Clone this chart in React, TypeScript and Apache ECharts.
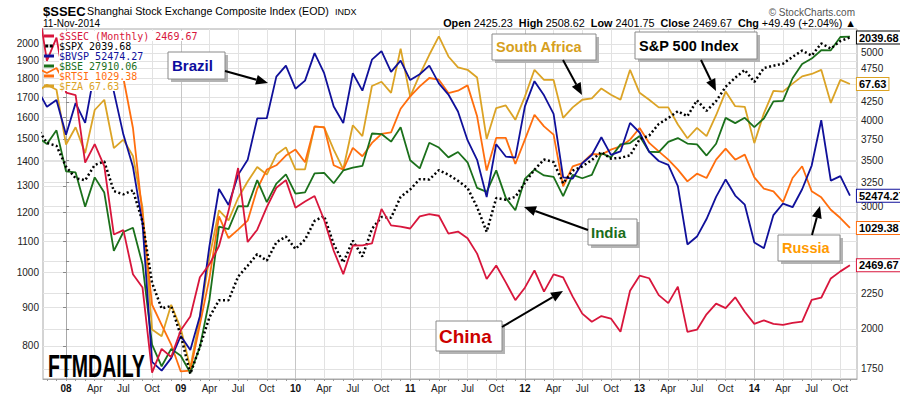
import React, { useEffect, useRef } from 'react';
import * as echarts from 'echarts';

// Month index 0 = Jan 2008; the arrays start at Oct 2007 (index -3) and end Nov 2014 (index 82)
const FIRST_MONTH = -3;

const SSEC = [
  5954.77, 4871.78, 5261.56,
  4383.39, 4348.54, 3472.71, 3693.11, 3433.35, 2736.10, 2775.72, 2397.37, 2293.78, 1728.79, 1871.16, 1820.81,
  1990.66, 2082.85, 2373.21, 2477.57, 2632.93, 2959.36, 3412.06, 2667.74, 2779.43, 2995.85, 3195.30, 3277.14,
  2989.29, 3051.94, 3109.10, 2870.61, 2592.15, 2398.37, 2637.50, 2638.80, 2655.66, 2978.83, 2820.18, 2808.08,
  2790.69, 2905.05, 2928.11, 2911.51, 2743.47, 2762.08, 2701.73, 2567.34, 2359.22, 2468.25, 2333.41, 2199.42,
  2292.61, 2428.49, 2262.79, 2396.32, 2372.23, 2225.43, 2103.63, 2047.52, 2086.17, 2068.88, 1980.12, 2269.13,
  2385.42, 2365.59, 2236.62, 2177.91, 2300.59, 1979.21, 1993.80, 2098.38, 2174.66, 2141.61, 2220.50, 2115.98,
  2033.08, 2056.30, 2033.31, 2026.36, 2039.21, 2048.33, 2201.56, 2217.20, 2363.87, 2420.18, 2469.67,
];

const SPX = [
  1549.38, 1481.14, 1468.36,
  1378.55, 1330.63, 1322.70, 1385.59, 1400.38, 1280.00, 1267.38, 1282.83, 1166.36, 968.75, 896.24, 903.25,
  825.88, 735.09, 797.87, 872.81, 919.14, 919.32, 987.48, 1020.62, 1057.08, 1036.19, 1095.63, 1115.10,
  1073.87, 1104.49, 1169.43, 1186.69, 1089.41, 1030.71, 1101.60, 1049.33, 1141.20, 1183.26, 1180.55, 1257.64,
  1286.12, 1327.22, 1325.83, 1363.61, 1345.20, 1320.64, 1292.28, 1218.89, 1131.42, 1253.30, 1246.96, 1257.60,
  1312.41, 1365.68, 1408.47, 1397.91, 1310.33, 1362.16, 1379.32, 1406.58, 1440.67, 1412.16, 1416.18, 1426.19,
  1498.11, 1514.68, 1569.19, 1597.57, 1630.74, 1606.28, 1685.73, 1632.97, 1681.55, 1756.54, 1805.81, 1848.36,
  1782.59, 1859.45, 1872.34, 1883.95, 1923.57, 1960.23, 1930.67, 2003.37, 1972.29, 2018.05, 2039.68,
];

const BVSP = [
  65317, 63006, 63886,
  59490, 63489, 60968, 67868, 72593, 65017, 59505, 55680, 49541, 37256, 36596, 37550,
  39301, 38183, 40926, 47289, 53197, 51465, 54766, 56489, 61517, 61545, 67044, 68588,
  65402, 66503, 70372, 67529, 63047, 60936, 67515, 65145, 69430, 70673, 67705, 69305,
  66575, 67383, 68587, 66133, 64620, 62404, 58823, 56495, 52324, 58338, 56875, 56754,
  63072, 66423, 64511, 62106, 54490, 54355, 56097, 57061, 59175, 57068, 57475, 60952,
  59761, 57424, 56352, 55910, 53506, 47457, 48234, 50008, 52338, 54256, 52482, 51507,
  47639, 47094, 50415, 51627, 51239, 53168, 55829, 61288, 54116, 54629, 52474.27,
];

const BSE = [
  19838, 19363, 20287,
  17649, 17579, 15644, 17287, 16416, 13462, 14356, 14565, 12860, 9788, 9093, 9647,
  9424, 8892, 9709, 11403, 14625, 14494, 15670, 15667, 17127, 15896, 16926, 17465,
  16358, 16430, 17528, 17559, 16945, 17701, 17868, 17971, 20069, 20032, 19521, 20509,
  18328, 17823, 19445, 19136, 18503, 18846, 18197, 16677, 16454, 17705, 16123, 15455,
  17194, 17753, 17404, 17319, 16219, 17430, 17236, 17430, 18763, 18505, 19340, 19427,
  19895, 18862, 18836, 19504, 19760, 19396, 19346, 18620, 19380, 21165, 20792, 21171,
  20514, 21120, 22386, 22418, 24217, 25414, 25895, 26638, 26631, 27866, 27910.06,
];

const RTSI = [
  2293, 2237, 2293,
  2110, 2181, 2145, 2274, 2391, 2274, 2181, 1698, 1100, 701, 634, 574,
  502, 504, 634, 801, 1091, 979, 1021, 1068, 1253, 1379, 1409, 1479,
  1524, 1430, 1712, 1704, 1409, 1379, 1537, 1474, 1576, 1648, 1662, 1870,
  1989, 2092, 2181, 2163, 2023, 2047, 2102, 1800, 1372, 1616, 1616, 1418,
  1602, 1815, 1712, 1643, 1268, 1402, 1425, 1491, 1486, 1524, 1550, 1602,
  1698, 1576, 1511, 1449, 1379, 1300, 1351, 1322, 1449, 1531, 1449, 1486,
  1326, 1253, 1237, 1172, 1322, 1402, 1237, 1200, 1128, 1082, 1029.38,
];

const FZA = [
  66.4, 67.5, 66.7,
  58.4, 60.9, 57.2, 63.5, 65.1, 57.9, 59.1, 56.8, 50.1, 37.3, 36.7, 39.6,
  37.4, 34.0, 38.4, 44.4, 49.8, 48.6, 51.3, 53.4, 55.3, 54.3, 57.0, 58.0,
  55.0, 55.0, 61.0, 60.9, 57.7, 55.0, 61.2, 59.6, 67.3, 68.0, 66.2, 73.7,
  65.6, 69.2, 72.6, 75.9, 72.3, 70.4, 70.0, 68.7, 59.2, 63.8, 64.2, 62.0,
  65.6, 70.0, 68.3, 68.3, 62.3, 63.9, 65.1, 65.3, 66.9, 65.9, 65.1, 70.0,
  66.2, 65.1, 63.9, 63.9, 61.3, 59.3, 60.8, 59.6, 62.7, 66.4, 64.1, 64.0,
  58.6, 63.0, 66.5, 66.4, 67.7, 68.9, 69.3, 70.0, 64.6, 68.3, 67.63,
];

const LEFT_TICKS = [800, 900, 1000, 1100, 1200, 1300, 1400, 1500, 1600, 1700, 1800, 1900, 2000];
const RIGHT_TICKS = [1750, 2000, 2250, 2500, 2750, 3000, 3250, 3500, 3750, 4000, 4250, 4500, 4750, 5000];
// labels that are not hidden behind the last-value boxes
const RIGHT_LABELS = [1750, 2000, 2250, 3000, 3250, 3500, 3750, 4000, 4250, 4750, 5000];
const YEAR_LABELS = ['08', '09', '10', '11', '12', '13', '14'];
const QUARTER_MONTHS = ['', 'Apr', 'Jul', 'Oct'];

// visible ranges of each (log) scale
const RANGE_SPX = [723.7, 2093.1];
const RANGE_SSEC = [1692.6, 5415];
const RANGE_BVSP = [35971, 73959];
const RANGE_BSE = [8708, 28635];
const RANGE_RTSI = [483.4, 2787.3];
const RANGE_FZA = [33.08, 77.28];
const X_RANGE = [-2.41, 82.74];

const FONT = '"Liberation Sans", Arial, sans-serif';
const lg = (v: number) => Math.log10(v);

const COLORS = {
  ssec: '#d8163c',
  spx: '#000000',
  bvsp: '#10109a',
  bse: '#1b701b',
  rtsi: '#ff6e0e',
  fza: '#dba325',
};

function arrow(x1: number, y1: number, x2: number, y2: number) {
  const dx = x2 - x1, dy = y2 - y1;
  const L = Math.hypot(dx, dy);
  const ux = dx / L, uy = dy / L;
  const hl = 12, hw = 5;
  const bx = x2 - ux * hl, by = y2 - uy * hl;
  const px = -uy, py = ux;
  return [
    { type: 'line', z: 100, shape: { x1, y1, x2: bx, y2: by }, style: { stroke: '#000', lineWidth: 2 } },
    {
      type: 'polygon', z: 100,
      shape: { points: [[x2, y2], [bx + px * hw, by + py * hw], [bx - px * hw, by - py * hw]] },
      style: { fill: '#000' },
    },
  ];
}

function callout(x: number, y: number, w: number, h: number, text: string, color: string, size: number, pad: number) {
  return [
    { type: 'rect', z: 100, shape: { x: x + 3, y: y + 3, width: w, height: h }, style: { fill: '#b4b4b4' } },
    { type: 'rect', z: 100, shape: { x, y, width: w, height: h }, style: { fill: '#fff', stroke: '#8a8a8a', lineWidth: 1 } },
    {
      type: 'text', z: 101, x: x + pad, y: y + h / 2,
      style: { text, fill: color, font: `bold ${size}px ${FONT}`, verticalAlign: 'middle', align: 'left' },
    },
  ];
}

export default function App() {
  const ref = useRef<HTMLDivElement>(null);

  useEffect(() => {
    if (!ref.current) return;
    const chart = echarts.init(ref.current, undefined, { renderer: 'svg' });

    const months: number[] = [];
    for (let m = -2; m <= 82; m++) months.push(m);
    const quarters: number[] = [];
    for (let m = 0; m <= 82; m += 3) quarters.push(m);

    const defs = [
      { name: '$FZA', data: FZA, color: COLORS.fza, axis: 5, label: true },
      { name: '$RTSI', data: RTSI, color: COLORS.rtsi, axis: 4, label: true },
      { name: '$BSE', data: BSE, color: COLORS.bse, axis: 3, label: false },
      { name: '$BVSP', data: BVSP, color: COLORS.bvsp, axis: 2, label: true },
      { name: '$SPX', data: SPX, color: COLORS.spx, axis: 0, label: true, dotted: true },
      { name: '$SSEC (Monthly)', data: SSEC, color: COLORS.ssec, axis: 1, label: true },
    ];
    const last: Record<string, string> = {};
    defs.forEach((d) => { last[d.name] = d.data[d.data.length - 1].toFixed(2); });

    const series = defs.map((d) => ({
      type: 'line',
      name: d.name,
      xAxisIndex: 0,
      yAxisIndex: d.axis,
      data: d.data.map((v, i) => [FIRST_MONTH + i, lg(v)]),
      showSymbol: false,
      symbol: 'none',
      color: d.color,
      silent: true,
      clip: true,
      z: 2,
      lineStyle: d.dotted
        ? { color: d.color, width: 2.5, type: [2, 2.5], cap: 'butt' }
        : { color: d.color, width: 1.8 },
      endLabel: {
        show: d.label,
        formatter: (p: any) => Math.pow(10, p.value[1]).toFixed(2),
        distance: 7,
        color: '#000',
        fontWeight: 'bold',
        fontSize: 11,
        fontFamily: FONT,
        backgroundColor: '#fff',
        borderColor: d.color,
        borderWidth: 1,
        padding: [1, 2, 0, 2],
        lineHeight: 11,
      },
    }));

    const hiddenY = (r: number[]) => ({ type: 'value', show: false, min: lg(r[0]), max: lg(r[1]) });

    const axisText = { fontSize: 10, color: '#222', fontFamily: FONT };

    const graphics: any[] = [
      { type: 'text', z: 100, x: 43, y: 11, style: { text: '$SSEC', font: `bold 13px ${FONT}`, fill: '#000', verticalAlign: 'middle' } },
      { type: 'text', z: 100, x: 87, y: 11, style: { text: 'Shanghai Stock Exchange Composite Index (EOD)', font: `10.7px ${FONT}`, fill: '#000', verticalAlign: 'middle' } },
      { type: 'text', z: 100, x: 335, y: 11.5, style: { text: 'INDX', font: `9px ${FONT}`, fill: '#000', verticalAlign: 'middle' } },
      { type: 'text', z: 100, x: 43, y: 23, style: { text: '11-Nov-2014', font: `10px ${FONT}`, fill: '#000', verticalAlign: 'middle' } },
      { type: 'text', z: 100, x: 855, y: 12, style: { text: '© StockCharts.com', font: `10px ${FONT}`, fill: '#555', align: 'right', verticalAlign: 'middle' } },
      {
        type: 'text', z: 100, x: 856, y: 23,
        style: {
          text: '{b|Open} 2425.23  {b|High} 2508.62  {b|Low} 2401.75  {b|Close} 2469.67  {b|Chg} +49.49 (+2.04%) ▲',
          font: `10.8px ${FONT}`, fill: '#000', align: 'right', verticalAlign: 'middle',
          rich: { b: { fontWeight: 'bold', fontSize: 10.8, fontFamily: FONT } },
        },
      },
      {
        type: 'text', z: 100, x: 48, y: 366, scaleX: 0.63,
        style: { text: 'FTMDAILY', font: `bold 31px ${FONT}`, fill: '#000', verticalAlign: 'middle' },
      },
      ...callout(168, 52, 57, 27, 'Brazil', '#0d0d9e', 15, 4),
      ...arrow(225, 71, 268, 83),
      ...callout(492, 34, 104, 26, 'South Africa', '#d6a01e', 14.5, 4),
      ...arrow(563, 60, 582, 95),
      ...callout(635, 32, 122, 27, 'S&P 500 Index', '#000', 14.5, 4),
      ...arrow(701, 60, 716, 91),
      ...callout(588, 219, 49, 26, 'India', '#1a6e1a', 15, 3),
      ...arrow(588, 230, 524, 207),
      ...callout(436, 321, 66, 30, 'China', '#cc0000', 19, 3),
      ...arrow(502, 327, 563, 291),
      ...callout(778, 235, 62, 26, 'Russia', '#ff9a00', 14.5, 4),
      ...arrow(812, 235, 820, 206),
    ];

    chart.setOption({
      animation: false,
      backgroundColor: '#fff',
      grid: { left: 43, right: 43, top: 29, bottom: 17, show: true, borderColor: '#a8a8a8', borderWidth: 1 },
      legend: {
        orient: 'vertical', left: 44, top: 31, itemGap: 0, itemWidth: 10, itemHeight: 3, padding: 0,
        icon: 'rect', selectedMode: false, z: 20,
        data: [
          { name: '$SSEC (Monthly)', textStyle: { color: COLORS.ssec } },
          { name: '$SPX', icon: 'path://M0,0H4V4H0Z M6,0H10V4H6Z', textStyle: { color: '#000' } },
          { name: '$BVSP', textStyle: { color: COLORS.bvsp } },
          { name: '$BSE', textStyle: { color: COLORS.bse } },
          { name: '$RTSI', textStyle: { color: COLORS.rtsi } },
          { name: '$FZA', textStyle: { color: COLORS.fza } },
        ],
        formatter: (name: string) => `${name} ${last[name]}`,
        textStyle: { fontFamily: '"DejaVu Sans Mono", monospace', fontSize: 10, lineHeight: 10, backgroundColor: '#fff' },
      },
      xAxis: [
        {
          type: 'value', min: X_RANGE[0], max: X_RANGE[1], position: 'bottom',
          axisLine: { show: true, lineStyle: { color: '#a8a8a8' } },
          axisTick: { show: true, length: 2, customValues: months, lineStyle: { color: '#999' } },
          axisLabel: {
            ...axisText, margin: 4, customValues: quarters,
            formatter: (v: number) => {
              const m = Math.round(v);
              const q = ((m % 12) + 12) % 12;
              if (q === 0) return `{y|${YEAR_LABELS[m / 12]}}`;
              return QUARTER_MONTHS[q / 3];
            },
            rich: { y: { fontWeight: 'bold', fontSize: 10, fontFamily: FONT, color: '#111' } },
          },
          splitLine: { show: false },
        },
        {
          type: 'value', min: X_RANGE[0], max: X_RANGE[1], position: 'top',
          axisLine: { show: false }, axisLabel: { show: false },
          axisTick: { show: false, customValues: quarters },
          splitLine: { show: true, lineStyle: { color: ['#c6c6c6', '#e2e2e2', '#e2e2e2', '#e2e2e2'], width: 1 } },
        },
      ],
      yAxis: [
        {
          type: 'value', position: 'left', min: lg(RANGE_SPX[0]), max: lg(RANGE_SPX[1]),
          axisLine: { show: true, lineStyle: { color: '#a8a8a8' } },
          axisTick: { show: true, length: 3, customValues: LEFT_TICKS.map(lg), lineStyle: { color: '#888' } },
          axisLabel: { ...axisText, margin: 4, customValues: LEFT_TICKS.map(lg), formatter: (v: number) => String(Math.round(Math.pow(10, v))) },
          splitLine: { show: true, lineStyle: { color: '#e2e2e2' } },
        },
        {
          type: 'value', position: 'right', min: lg(RANGE_SSEC[0]), max: lg(RANGE_SSEC[1]),
          axisLine: { show: true, lineStyle: { color: '#a8a8a8' } },
          axisTick: { show: true, length: 3, customValues: RIGHT_TICKS.map(lg), lineStyle: { color: '#888' } },
          axisLabel: { ...axisText, margin: 4, customValues: RIGHT_LABELS.map(lg), formatter: (v: number) => String(Math.round(Math.pow(10, v))) },
          splitLine: { show: true, lineStyle: { color: '#e2e2e2' } },
        },
        hiddenY(RANGE_BVSP),
        hiddenY(RANGE_BSE),
        hiddenY(RANGE_RTSI),
        hiddenY(RANGE_FZA),
      ],
      series,
      graphic: graphics,
    });

    return () => chart.dispose();
  }, []);

  return <div ref={ref} style={{ position: 'fixed', left: 0, top: 0, width: 900, height: 396 }} />;
}
